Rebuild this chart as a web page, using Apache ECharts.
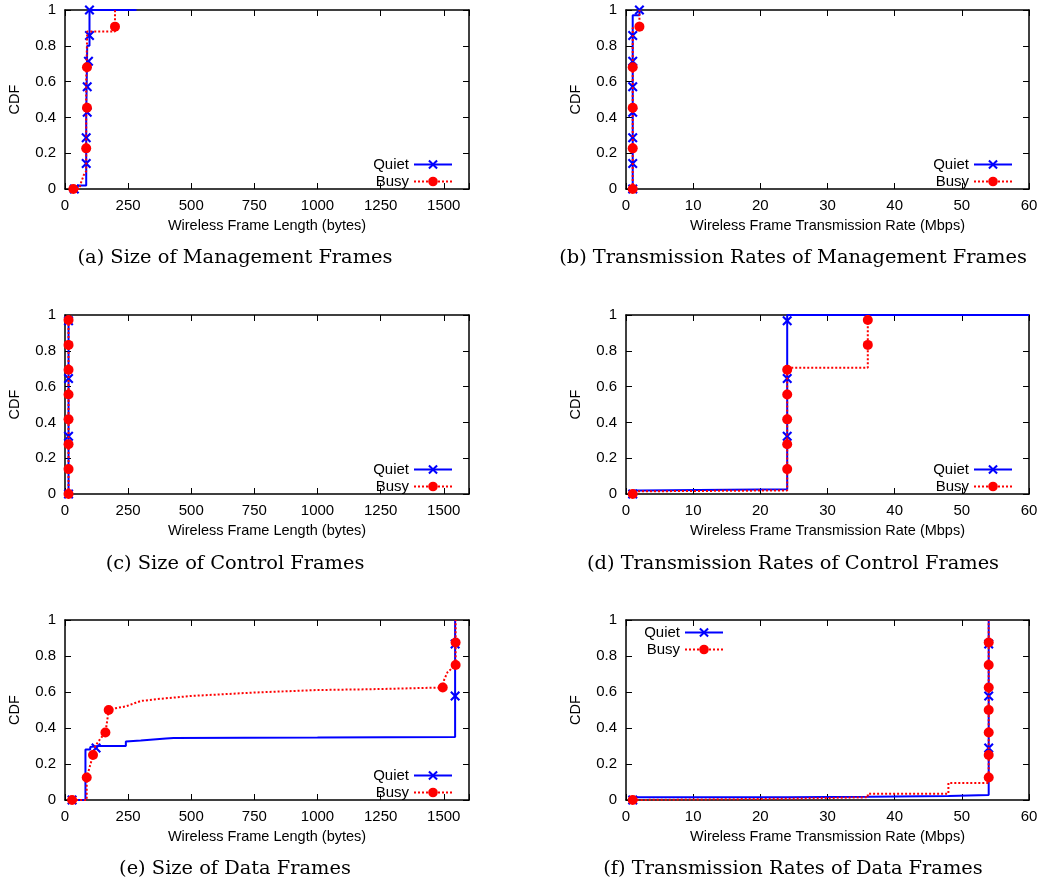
<!DOCTYPE html>
<html>
<head>
<meta charset="utf-8">
<script src="https://cdn.jsdelivr.net/npm/echarts@6/dist/echarts.min.js"></script>
<style>
html,body{margin:0;padding:0;background:#fff;}
#chart{width:1041px;height:884px;}
</style>
</head>
<body>
<div id="chart"></div>
<script>
// ---------- data ----------
const seriesNames = ['Quiet', 'Busy'];
const yTicks = [0, 0.2, 0.4, 0.6, 0.8, 1];
const sizeTicks = [0, 250, 500, 750, 1000, 1250, 1500];
const rateTicks = [0, 10, 20, 30, 40, 50, 60];
const captions = [
  '(a) Size of Management Frames',
  '(b) Transmission Rates of Management Frames',
  '(c) Size of Control Frames',
  '(d) Transmission Rates of Control Frames',
  '(e) Size of Data Frames',
  '(f) Transmission Rates of Data Frames'
];
const xNames = [
  'Wireless Frame Length (bytes)',
  'Wireless Frame Transmission Rate (Mbps)'
];

// (a) management frame size
const mgmtSizeQuietLine = [[37,0],[50,0],[50,0.02],[84,0.02],[84,0.4],[88,0.4],[88,0.8],[97,0.8],[97,1],[283,1]];
const mgmtSizeQuietMarks = [[37,0],[84,0.143],[84,0.286],[88,0.429],[88,0.571],[93,0.714],[97,0.857],[97,1]];
const mgmtSizeBusyLine = [[33,0],[57,0],[62,0.03],[75,0.08],[84,0.1],[84,0.6],[88,0.6],[88,0.88],[198,0.88],[198,1]];
const mgmtSizeBusyMarks = [[33,0],[84,0.227],[87,0.454],[87,0.68],[198,0.907]];

// (b) management frame rate
const mgmtRateQuietLine = [[1,0],[1,0.97],[2,0.97],[2,1]];
const mgmtRateQuietMarks = [[1,0],[1,0.143],[1,0.286],[1,0.429],[1,0.571],[1,0.714],[1,0.857],[2,1]];
const mgmtRateBusyLine = [[1,0],[1,0.9],[2,0.9],[2,1]];
const mgmtRateBusyMarks = [[1,0],[1,0.227],[1,0.454],[1,0.68],[2,0.907]];

// (c) control frame size
const ctrlSizeQuietLine = [[14,0],[14,1]];
const ctrlSizeQuietMarks = [[14,0],[14,0.323],[14,0.645],[14,0.968]];
const ctrlSizeBusyLine = [[14,0],[14,1]];
const ctrlSizeBusyMarks = [[14,0],[14,0.139],[14,0.278],[14,0.417],[14,0.556],[14,0.694],[14,0.833],[14,0.972]];

// (d) control frame rate
const ctrlRateQuietLine = [[1,0],[1,0.02],[2,0.02],[2,0.027],[24,0.027],[24,1],[60,1]];
const ctrlRateQuietMarks = [[1,0],[24,0.323],[24,0.645],[24,0.968]];
const ctrlRateBusyLine = [[1,0],[1,0.015],[2,0.015],[2,0.02],[24,0.02],[24,0.706],[36,0.706],[36,1]];
const ctrlRateBusyMarks = [[1,0],[24,0.139],[24,0.278],[24,0.417],[24,0.556],[24,0.694],[36,0.833],[36,0.972]];

// (e) data frame size
const dataSizeQuietLine = [[28,0],[81,0],[81,0.28],[100,0.28],[100,0.295],[130,0.3],[241,0.3],[241,0.325],[300,0.33],[400,0.342],[430,0.345],[1000,0.347],[1545,0.35],[1545,1]];
const dataSizeQuietMarks = [[28,0],[123,0.289],[1545,0.578],[1545,0.867]];
const dataSizeBusyLine = [[28,0],[86,0],[86,0.125],[95,0.17],[105,0.22],[111,0.25],[120,0.3],[140,0.34],[160,0.375],[165,0.42],[173,0.5],[200,0.51],[241,0.52],[280,0.54],[300,0.55],[360,0.56],[500,0.578],[750,0.597],[1000,0.611],[1200,0.615],[1496,0.625],[1502,0.67],[1515,0.71],[1535,0.735],[1547,0.75],[1547,1]];
const dataSizeBusyMarks = [[28,0],[86,0.125],[111,0.25],[160,0.375],[173,0.5],[1496,0.625],[1547,0.75],[1547,0.875]];

// (f) data frame rate
const dataRateQuietLine = [[1,0],[1,0.015],[24,0.015],[24,0.018],[36,0.018],[36,0.022],[48,0.022],[48,0.028],[54,0.028],[54,1]];
const dataRateQuietMarks = [[1,0],[54,0.289],[54,0.578],[54,0.867]];
const dataRateBusyLine = [[1,0],[1,0.007],[24,0.007],[24,0.015],[36,0.015],[36,0.035],[48,0.035],[48,0.095],[54,0.095],[54,1]];
const dataRateBusyMarks = [[1,0],[54,0.125],[54,0.25],[54,0.375],[54,0.5],[54,0.625],[54,0.75],[54,0.875]];

// ---------- layout ----------
const panels = [
  {q: mgmtSizeQuietLine, qm: mgmtSizeQuietMarks, b: mgmtSizeBusyLine, bm: mgmtSizeBusyMarks, kind: 'size', legend: 'br'},
  {q: mgmtRateQuietLine, qm: mgmtRateQuietMarks, b: mgmtRateBusyLine, bm: mgmtRateBusyMarks, kind: 'rate', legend: 'br'},
  {q: ctrlSizeQuietLine, qm: ctrlSizeQuietMarks, b: ctrlSizeBusyLine, bm: ctrlSizeBusyMarks, kind: 'size', legend: 'br'},
  {q: ctrlRateQuietLine, qm: ctrlRateQuietMarks, b: ctrlRateBusyLine, bm: ctrlRateBusyMarks, kind: 'rate', legend: 'br'},
  {q: dataSizeQuietLine, qm: dataSizeQuietMarks, b: dataSizeBusyLine, bm: dataSizeBusyMarks, kind: 'size', legend: 'br'},
  {q: dataRateQuietLine, qm: dataRateQuietMarks, b: dataRateBusyLine, bm: dataRateBusyMarks, kind: 'rate', legend: 'tl'}
];

const colLeft = [65, 626];
const colWidth = [404, 403];
const rowTop = [10, 315, 620];
const rowHeight = [179, 179, 180];
const captionX = [235, 793];
const captionY = [258, 564, 869];

const BLUE = '#0000ff';
const RED = '#ff0000';
const XPATH = 'path://M0,1.5 L1.5,0 L5,3.5 L8.5,0 L10,1.5 L6.5,5 L10,8.5 L8.5,10 L5,6.5 L1.5,10 L0,8.5 L3.5,5 Z';
const SANS = '"Liberation Sans", Arial, sans-serif';
const FS = 15;

const grid = [], xAxis = [], yAxis = [], series = [], legend = [], graphic = [];

panels.forEach((p, i) => {
  const c = i % 2, r = Math.floor(i / 2);
  grid.push({left: colLeft[c], top: rowTop[r], width: colWidth[c], height: rowHeight[r], containLabel: false});
  const isSize = p.kind === 'size';
  const ticks = isSize ? sizeTicks : rateTicks;
  const xmin = ticks[0];
  const xmax = isSize ? 1600 : ticks[ticks.length - 1];
  const xint = ticks[1] - ticks[0];
  const tickStyle = {show: true, inside: true, length: 6, lineStyle: {color: '#000', width: 1}};
  const lineStyle = {show: true, onZero: false, lineStyle: {color: '#000', width: 1.5}};
  // bottom x
  xAxis.push({
    type: 'value', gridIndex: i, min: xmin, max: xmax, interval: xint, position: 'bottom',
    name: xNames[isSize ? 0 : 1], nameLocation: 'middle', nameGap: 29,
    nameTextStyle: {fontFamily: SANS, fontSize: 14.5, color: '#000'},
    axisLine: lineStyle, axisTick: tickStyle, splitLine: {show: false},
    axisLabel: {margin: 9, fontFamily: SANS, fontSize: FS, color: '#000',
      formatter: v => (v > ticks[ticks.length - 1] ? '' : String(v))}
  });
  // top mirror x
  xAxis.push({
    type: 'value', gridIndex: i, min: xmin, max: xmax, interval: xint, position: 'top',
    axisLine: lineStyle, axisTick: tickStyle, splitLine: {show: false}, axisLabel: {show: false}
  });
  // left y
  yAxis.push({
    type: 'value', gridIndex: i, min: 0, max: 1, interval: 0.2, position: 'left',
    name: 'CDF', nameLocation: 'middle', nameGap: 43, nameRotate: 90,
    nameTextStyle: {fontFamily: SANS, fontSize: 14.5, color: '#000'},
    axisLine: lineStyle, axisTick: tickStyle, splitLine: {show: false},
    axisLabel: {margin: 9, fontFamily: SANS, fontSize: FS, color: '#000',
      formatter: v => String(Math.round(v * 10) / 10)}
  });
  // right mirror y
  yAxis.push({
    type: 'value', gridIndex: i, min: 0, max: 1, interval: 0.2, position: 'right',
    axisLine: lineStyle, axisTick: tickStyle, splitLine: {show: false}, axisLabel: {show: false}
  });
  const xi = i * 2, yi = i * 2;
  // empty series binding the mirror axes so they are drawn
  series.push({
    name: 'frame', type: 'line', xAxisIndex: xi + 1, yAxisIndex: yi + 1, data: [],
    showSymbol: false, silent: true, animation: false
  });
  series.push({
    name: 'Quiet', type: 'line', xAxisIndex: xi, yAxisIndex: yi, data: p.q,
    symbol: XPATH, symbolSize: 10, showSymbol: false, silent: true, animation: false,
    lineStyle: {color: BLUE, width: 2}, itemStyle: {color: BLUE}, z: 2
  });
  series.push({
    name: 'Quiet marks', type: 'scatter', xAxisIndex: xi, yAxisIndex: yi, data: p.qm,
    symbol: XPATH, symbolSize: 10, silent: true, animation: false,
    itemStyle: {color: BLUE, opacity: 1}, z: 3
  });
  series.push({
    name: 'Busy', type: 'line', xAxisIndex: xi, yAxisIndex: yi, data: p.b,
    symbol: 'circle', symbolSize: 10, showSymbol: false, silent: true, animation: false,
    lineStyle: {color: RED, width: 2, type: [2, 2]}, itemStyle: {color: RED}, z: 4
  });
  series.push({
    name: 'Busy marks', type: 'scatter', xAxisIndex: xi, yAxisIndex: yi, data: p.bm,
    symbol: 'circle', symbolSize: 10, silent: true, animation: false,
    itemStyle: {color: RED, opacity: 1}, z: 5
  });
  // legend
  const lg = {
    data: seriesNames, orient: 'vertical', align: 'right', itemWidth: 38, itemHeight: 12, itemGap: 2,
    padding: 0, selectedMode: false,
    textStyle: {fontFamily: SANS, fontSize: FS, color: '#000', lineHeight: 13}
  };
  if (p.legend === 'br') {
    lg.right = 1041 - (colLeft[c] + colWidth[c] - 16);
    lg.top = rowTop[r] + rowHeight[r] - 32;
  } else {
    lg.right = 1041 - (colLeft[c] + 98);
    lg.top = rowTop[r] + 5;
  }
  legend.push(lg);
  graphic.push({
    type: 'text', x: captionX[c], y: captionY[r], silent: true,
    style: {text: captions[i], font: '19.4px "DejaVu Serif", serif', fill: '#000',
      align: 'center', verticalAlign: 'middle', textAlign: 'center', textVerticalAlign: 'middle'}
  });
});

const chart = echarts.init(document.getElementById('chart'), null, {renderer: 'canvas'});
chart.setOption({
  animation: false,
  backgroundColor: '#fff',
  grid, xAxis, yAxis, series, legend, graphic
});
</script>
</body>
</html>
